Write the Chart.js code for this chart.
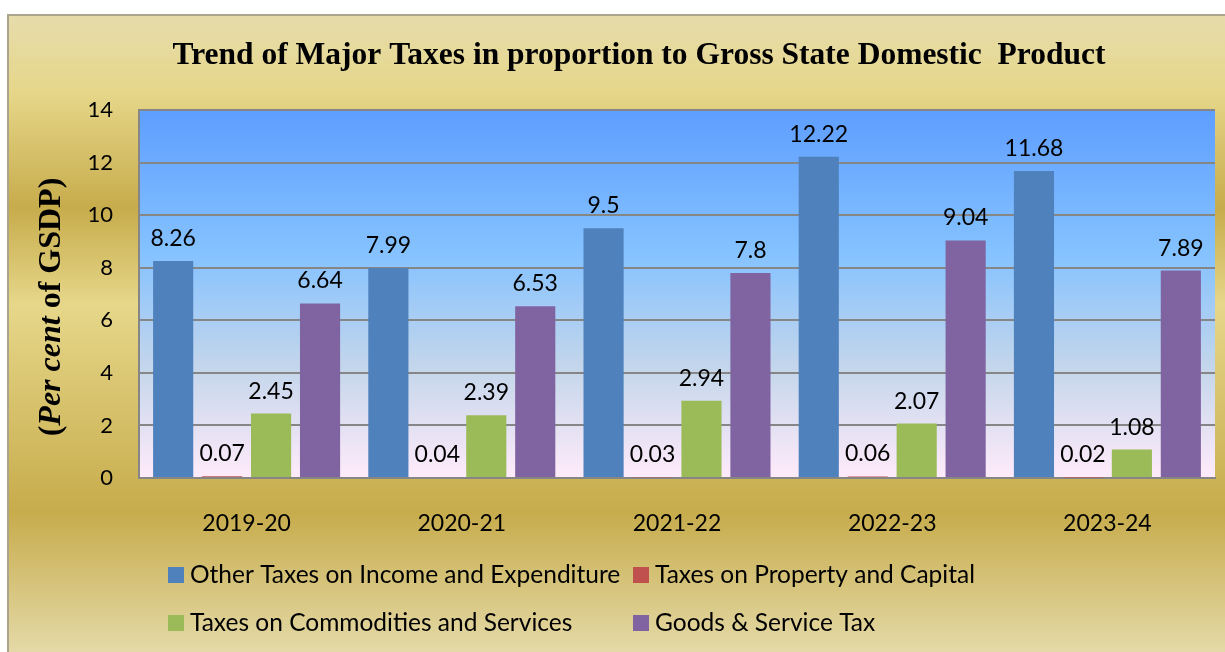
<!DOCTYPE html>
<html>
<head>
<meta charset="utf-8">
<title>Trend of Major Taxes</title>
<script src="https://cdn.jsdelivr.net/npm/chart.js"></script>
<style>
  html, body { margin: 0; padding: 0; background: #fff; }
  canvas { display: block; }
</style>
</head>
<body>
<canvas id="taxChart" width="1225" height="652"></canvas>
<script>
// Data
var years = ['2019-20', '2020-21', '2021-22', '2022-23', '2023-24'];
var otherTaxes = [8.26, 7.99, 9.5, 12.22, 11.68];
var propertyTaxes = [0.07, 0.04, 0.03, 0.06, 0.02];
var commodityTaxes = [2.45, 2.39, 2.94, 2.07, 1.08];
var gstTaxes = [6.64, 6.53, 7.8, 9.04, 7.89];
var yTicks = [0, 2, 4, 6, 8, 10, 12, 14];

var seriesNames = [
    'Other Taxes on Income and Expenditure',
    'Taxes on Property and Capital',
    'Taxes on Commodities and Services',
    'Goods & Service Tax'
];
var seriesColors = ['#4f81bd', '#c0504d', '#9bbb59', '#8064a2'];

var FONT = 'Lato';
var GRID = '#868686';

// Gold frame, plot area gradient
var backgroundPlugin = {
    id: 'backgroundPlugin',
    beforeDraw: function (chart) {
        var ctx = chart.ctx;
        var area = chart.chartArea;
        ctx.save();
        ctx.fillStyle = '#ffffff';
        ctx.fillRect(0, 0, chart.width, chart.height);

        var gold = ctx.createLinearGradient(0, 14, 0, 660);
        gold.addColorStop(0, '#e6dcac');
        gold.addColorStop(0.12, '#e6d78a');
        gold.addColorStop(0.30, '#c7ac4c');
        gold.addColorStop(0.45, '#e6d78a');
        gold.addColorStop(0.77, '#c7ac4c');
        gold.addColorStop(1, '#e6dcac');
        ctx.fillStyle = gold;
        ctx.fillRect(7, 14, chart.width, chart.height);
        ctx.strokeStyle = '#aaa48c';
        ctx.lineWidth = 2;
        ctx.strokeRect(8, 15, chart.width + 10, chart.height + 10);

        var plot = ctx.createLinearGradient(0, area.top, 0, area.bottom);
        plot.addColorStop(0, '#5e9eff');
        plot.addColorStop(0.39, '#85c2ff');
        plot.addColorStop(0.70, '#c4d6eb');
        plot.addColorStop(1, '#ffebfa');
        ctx.fillStyle = plot;
        ctx.fillRect(area.left, area.top, area.right - area.left, area.bottom - area.top);
        ctx.restore();
    }
};

// Value labels above every bar
var valueLabels = {
    id: 'valueLabels',
    afterDatasetsDraw: function (chart) {
        var ctx = chart.ctx;
        ctx.save();
        ctx.font = '23px ' + FONT;
        ctx.fillStyle = '#000';
        ctx.textAlign = 'center';
        ctx.textBaseline = 'bottom';
        chart.data.datasets.forEach(function (ds, i) {
            chart.getDatasetMeta(i).data.forEach(function (bar, j) {
                ctx.fillText(String(ds.data[j]), bar.x, bar.y - 11);
            });
        });
        ctx.restore();
    }
};

// Title, rotated axis title and two-column legend
var textPlugin = {
    id: 'textPlugin',
    afterDraw: function (chart) {
        var ctx = chart.ctx;
        ctx.save();
        ctx.fillStyle = '#000';
        ctx.textBaseline = 'middle';

        ctx.font = 'bold 31.5px "Liberation Serif"';
        ctx.textAlign = 'center';
        ctx.fillText('Trend of Major Taxes in proportion to Gross State Domestic  Product', 639, 56);

        // y axis title with italic "Per cent"
        var parts = [
            ['(', 'bold 32px "Liberation Serif"'],
            ['Per cent', 'italic bold 32px "Liberation Serif"'],
            [' of GSDP)', 'bold 32px "Liberation Serif"']
        ];
        var total = 0;
        parts.forEach(function (p) { ctx.font = p[1]; total += ctx.measureText(p[0]).width; });
        ctx.translate(52, 307);
        ctx.rotate(-Math.PI / 2);
        ctx.textAlign = 'left';
        var x = -total / 2;
        parts.forEach(function (p) {
            ctx.font = p[1];
            ctx.fillText(p[0], x, 0);
            x += ctx.measureText(p[0]).width;
        });
        ctx.setTransform(1, 0, 0, 1, 0, 0);

        // legend
        var cols = [168, 633];
        var rows = [575, 623];
        ctx.font = '24.5px ' + FONT;
        ctx.textAlign = 'left';
        chart.data.datasets.forEach(function (ds, i) {
            var lx = cols[i % 2];
            var ly = rows[Math.floor(i / 2)];
            ctx.fillStyle = ds.backgroundColor;
            ctx.fillRect(lx, ly - 8, 16, 16);
            ctx.fillStyle = '#000';
            ctx.fillText(ds.label, lx + 22, ly);
        });
        ctx.restore();
    }
};

var datasets = [otherTaxes, propertyTaxes, commodityTaxes, gstTaxes].map(function (values, i) {
    return {
        label: seriesNames[i],
        data: values,
        backgroundColor: seriesColors[i],
        borderColor: seriesColors[i],
        borderWidth: 0,
        categoryPercentage: 0.91,
        barPercentage: 0.82
    };
});

new Chart(document.getElementById('taxChart').getContext('2d'), {
    type: 'bar',
    data: { labels: years, datasets: datasets },
    plugins: [backgroundPlugin, valueLabels, textPlugin],
    options: {
        responsive: false,
        animation: false,
        layout: { padding: { top: 110, right: 10, left: 0, bottom: 0 } },
        plugins: {
            legend: { display: false },
            title: { display: false },
            tooltip: { enabled: false }
        },
        scales: {
            x: {
                grid: { display: false },
                border: { display: true, color: GRID, width: 2 },
                ticks: { color: '#000', font: { family: FONT, size: 23 }, padding: 24 },
                afterFit: function (s) { s.height = 174; }
            },
            y: {
                min: yTicks[0],
                max: yTicks[yTicks.length - 1],
                afterBuildTicks: function (s) { s.ticks = yTicks.map(function (v) { return { value: v }; }); },
                grid: { color: GRID, lineWidth: 2, drawTicks: false },
                border: { display: true, color: GRID, width: 2 },
                ticks: { color: '#000', font: { family: FONT, size: 22 }, padding: 26 },
                afterFit: function (s) { s.width = 139; }
            }
        }
    }
});
</script>
</body>
</html>
